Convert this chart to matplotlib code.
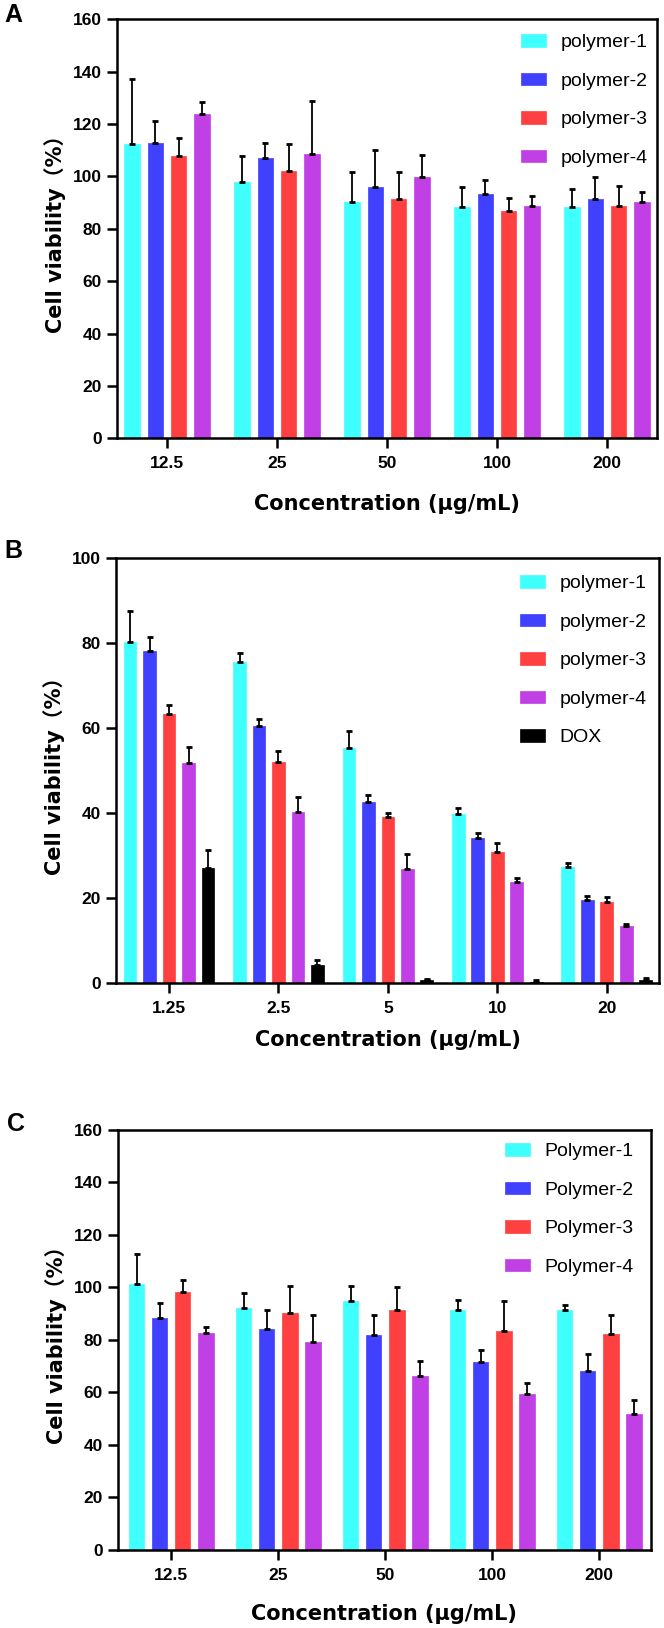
import matplotlib
matplotlib.use('Agg')
import matplotlib.pyplot as plt
import numpy as np

# ---- data ----
conc_a = ['12.5', '25', '50', '100', '200']
conc_b = ['1.25', '2.5', '5', '10', '20']
conc_c = ['12.5', '25', '50', '100', '200']

labels_a = ['polymer-1', 'polymer-2', 'polymer-3', 'polymer-4']
labels_b = ['polymer-1', 'polymer-2', 'polymer-3', 'polymer-4', 'DOX']
labels_c = ['Polymer-1', 'Polymer-2', 'Polymer-3', 'Polymer-4']

# panel A
a_p1 = [112.4, 97.9, 90.2, 88.5, 88.5]
a_p2 = [112.6, 107.2, 96.1, 93.3, 91.3]
a_p3 = [107.8, 102.1, 91.5, 86.7, 88.8]
a_p4 = [124.0, 108.7, 99.9, 88.6, 90.1]
a_p1_sd = [24.8, 9.9, 11.5, 7.6, 6.7]
a_p2_sd = [8.7, 5.6, 14.0, 5.5, 8.4]
a_p3_sd = [6.9, 10.2, 10.2, 5.2, 7.7]
a_p4_sd = [4.5, 20.0, 8.2, 4.1, 3.8]

# panel B
b_p1 = [80.4, 75.6, 55.4, 39.8, 27.4]
b_p2 = [78.1, 60.5, 42.6, 34.3, 19.6]
b_p3 = [63.4, 52.0, 39.2, 30.9, 19.1]
b_p4 = [51.8, 40.3, 26.8, 23.9, 13.5]
b_dox = [27.1, 4.3, 0.7, 0.4, 0.7]
b_p1_sd = [7.3, 2.1, 4.0, 1.4, 0.8]
b_p2_sd = [3.3, 1.7, 1.8, 1.1, 1.0]
b_p3_sd = [2.2, 2.6, 0.9, 2.2, 1.1]
b_p4_sd = [3.7, 3.6, 3.6, 0.8, 0.5]
b_dox_sd = [4.3, 1.2, 0.4, 0.35, 0.6]

# panel C
c_p1 = [101.1, 92.0, 94.6, 91.5, 91.2]
c_p2 = [88.2, 84.2, 81.7, 71.7, 68.0]
c_p3 = [98.2, 90.4, 91.2, 83.5, 82.1]
c_p4 = [82.5, 79.1, 66.2, 59.3, 51.7]
c_p1_sd = [11.4, 5.9, 5.9, 3.7, 2.1]
c_p2_sd = [6.0, 7.0, 7.6, 4.5, 6.7]
c_p3_sd = [4.6, 10.1, 8.8, 11.1, 7.3]
c_p4_sd = [2.2, 10.3, 5.6, 4.1, 5.2]

colors = ['#40FFFF', '#4040FF', '#FF4040', '#C040E6', '#000000']

W, H = 664, 1628
TICK_FONT = 'Liberation Sans'
LABEL_FONT = ['DejaVu Sans', 'Noto Sans CJK SC']


def px_axes(fig, left, top, right, bottom):
    """Add axes from pixel box (origin top-left)"""
    return fig.add_axes([left / W, 1 - bottom / H, (right - left) / W, (bottom - top) / H])


def draw_panel(ax, cats, series, errs, labels, pitch, width, xlim, ylim, ystep,
               legend_xy, xlabelpad):
    x = np.arange(len(cats))
    n = len(series)
    for k in range(n):
        offs = (k - (n - 1) / 2) * pitch
        ax.bar(x + offs, series[k], width, color=colors[k], label=labels[k],
               edgecolor=colors[k], linewidth=0.5, zorder=2)
        ax.errorbar(x + offs, series[k], yerr=[np.zeros(len(cats)), errs[k]],
                    fmt='none', ecolor='black', elinewidth=1.3, capsize=2.5,
                    capthick=2, zorder=3)

    ax.set_xlim(*xlim)
    ax.set_ylim(*ylim)
    ax.set_xticks(x)
    ax.set_xticklabels(cats)
    ax.set_yticks(np.arange(ylim[0], ylim[1] + 1, ystep))
    for sp in ax.spines.values():
        sp.set_linewidth(1.8)
    ax.tick_params(width=1.8, length=7, pad=4, labelsize=12.5)
    ax.tick_params(axis='x', pad=6)
    for lab in ax.get_xticklabels() + ax.get_yticklabels():
        lab.set_fontfamily(TICK_FONT)
        lab.set_fontweight('bold')

    ax.set_ylabel('Cell viability\uff08%\uff09', fontsize=15, fontweight='bold',
                  family=LABEL_FONT, labelpad=5)
    ax.set_xlabel('Concentration (\u03bcg/mL)', fontsize=15, fontweight='bold',
                  family=LABEL_FONT, labelpad=xlabelpad)

    fig = ax.figure
    ax.legend(loc='upper left', bbox_to_anchor=(legend_xy[0] / W, 1 - legend_xy[1] / H),
              bbox_transform=fig.transFigure, frameon=False,
              prop={'family': TICK_FONT, 'size': 14},
              handlelength=1.3, handleheight=0.62, handletextpad=0.75,
              labelspacing=1.1, borderpad=0, borderaxespad=0)


fig = plt.figure(figsize=(W / 100, H / 100), dpi=100)

ax_a = px_axes(fig, 117, 19.3, 657, 438.3)
draw_panel(ax_a, conc_a, [a_p1, a_p2, a_p3, a_p4],
           [a_p1_sd, a_p2_sd, a_p3_sd, a_p4_sd], labels_a,
           0.213, 0.14, (-0.455, 4.455), (0, 160), 20, (521, 34), 16)

ax_b = px_axes(fig, 116, 558.3, 659, 983.3)
draw_panel(ax_b, conc_b, [b_p1, b_p2, b_p3, b_p4, b_dox],
           [b_p1_sd, b_p2_sd, b_p3_sd, b_p4_sd, b_dox_sd], labels_b,
           0.178, 0.116, (-0.485, 4.478), (0, 100), 20, (520, 575), 10)

ax_c = px_axes(fig, 118, 1129.8, 650.7, 1549.8)
draw_panel(ax_c, conc_c, [c_p1, c_p2, c_p3, c_p4],
           [c_p1_sd, c_p2_sd, c_p3_sd, c_p4_sd], labels_c,
           0.216, 0.143, (-0.498, 4.48), (0, 160), 20, (505, 1143), 15)

# panel letters
for letter, (lx, ly) in zip(['A', 'B', 'C'], [(13, 15), (13, 551), (16, 1124)]):
    fig.text(lx / W, 1 - ly / H, letter, fontsize=18, fontweight='bold',
             family=TICK_FONT, ha='center', va='center')

fig.savefig('out.png', dpi=100)
